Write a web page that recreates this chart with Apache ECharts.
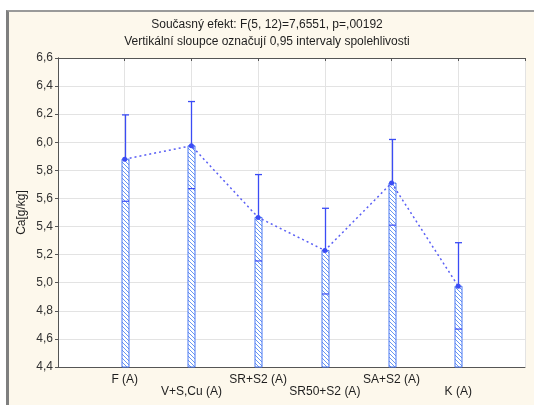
<!DOCTYPE html>
<html>
<head>
<meta charset="utf-8">
<script src="https://cdn.jsdelivr.net/npm/echarts@6/dist/echarts.min.js"></script>
<style>
  html, body { margin: 0; padding: 0; background: #ffffff; }
  #wrap { position: relative; width: 534px; height: 405px; overflow: hidden; }
  #panel {
    position: absolute; left: 6px; top: 10px; width: 540px; height: 400px;
    background: #fdf8ec; border-left: 3px solid #7f7f7f; border-top: 2px solid #9a9a9a;
  }
  #chart { position: absolute; left: 0; top: 0; width: 534px; height: 405px; }
</style>
</head>
<body>
<div id="wrap">
  <div id="panel"></div>
  <div id="chart"></div>
</div>
<script>
// Group labels and their means with 0.95 confidence limits
const categories = ['F (A)', 'V+S,Cu (A)', 'SR+S2 (A)', 'SR50+S2 (A)', 'SA+S2 (A)', 'K (A)'];
const means = [5.88, 5.975, 5.465, 5.23, 5.71, 4.975];
const lowerCI = [5.58, 5.67, 5.155, 4.92, 5.41, 4.67];
const upperCI = [6.195, 6.29, 5.77, 5.53, 6.02, 5.285];

const yMin = 4.4, yMax = 6.6, yStep = 0.2;

// Diagonal hatch tile for the bars
function hatchTile() {
  const s = 4;
  const c = document.createElement('canvas');
  c.width = s; c.height = s;
  const g = c.getContext('2d');
  g.fillStyle = '#ffffff';
  g.fillRect(0, 0, s, s);
  g.strokeStyle = '#6a97f2';
  g.lineWidth = 1;
  g.beginPath();
  g.moveTo(-1, -1); g.lineTo(s + 1, s + 1);
  g.moveTo(-1, s - 1); g.lineTo(1, s + 1);
  g.moveTo(s - 1, -1); g.lineTo(s + 1, 1);
  g.stroke();
  return c;
}
const hatch = { image: hatchTile(), repeat: 'repeat' };

const barRows = categories.map((c, i) => [i + 1, means[i], lowerCI[i], upperCI[i]]);
const meanPoints = categories.map((c, i) => [i + 1, means[i]]);

const chart = echarts.init(document.getElementById('chart'), null, { renderer: 'canvas' });

const commaFmt = v => v.toFixed(1).replace('.', ',');

chart.setOption({
  backgroundColor: 'transparent',
  animation: false,
  title: {
    text: 'Současný efekt: F(5, 12)=7,6551, p=,00192\nVertikální sloupce označují 0,95 intervaly spolehlivosti',
    left: 'center',
    top: 16,
    padding: 0,
    textStyle: { fontFamily: 'Liberation Sans', fontSize: 12, fontWeight: 'normal', color: '#1e1e1e', lineHeight: 17 }
  },
  grid: { left: 58, right: 9, top: 58, bottom: 38, show: true, backgroundColor: '#ffffff', borderWidth: 0 },
  xAxis: [{
    type: 'value', min: 0, max: 7, interval: 1,
    axisLine: { show: true, lineStyle: { color: '#555', width: 1 } },
    axisTick: { show: false },
    splitLine: { show: true, lineStyle: { color: '#e3e3e3', width: 1 } },
    axisLabel: {
      margin: 7,
      fontFamily: 'Liberation Sans', fontSize: 12, color: '#1e1e1e', lineHeight: 12,
      formatter: v => {
        const i = Math.round(v) - 1;
        if (i < 0 || i >= categories.length) return '';
        return i % 2 === 0 ? categories[i] : '\n' + categories[i];
      }
    }
  }, {
    type: 'value', min: 0, max: 7, interval: 1, position: 'top',
    axisLine: { show: true, lineStyle: { color: '#555', width: 1 } },
    axisTick: { show: true, inside: true, length: 3, lineStyle: { color: '#555' } },
    axisLabel: { show: false },
    splitLine: { show: false }
  }],
  yAxis: [{
    type: 'value', min: yMin, max: yMax, interval: yStep,
    name: 'Ca[g/kg]', nameLocation: 'middle', nameGap: 30, nameMoveOverlap: false,
    nameTextStyle: { fontFamily: 'Liberation Sans', fontSize: 12, color: '#1e1e1e' },
    axisLine: { show: true, lineStyle: { color: '#555', width: 1 } },
    axisTick: { show: true, length: 2, lineStyle: { color: '#555' } },
    splitLine: { show: true, lineStyle: { color: '#e3e3e3', width: 1 } },
    axisLabel: { margin: 5, fontFamily: 'Liberation Sans', fontSize: 12, color: '#333', formatter: commaFmt }
  }, {
    type: 'value', min: yMin, max: yMax, interval: yStep, position: 'right',
    axisLine: { show: true, lineStyle: { color: '#555', width: 1 } },
    axisTick: { show: true, inside: true, length: 3, lineStyle: { color: '#555' } },
    axisLabel: { show: false },
    splitLine: { show: false }
  }],
  series: [{
    type: 'custom',
    xAxisIndex: 0, yAxisIndex: 0,
    data: barRows,
    z: 3,
    renderItem: (params, api) => {
      const x = api.value(0);
      const pBase = api.coord([x, yMin]);
      const pMean = api.coord([x, api.value(1)]);
      const pLo = api.coord([x, api.value(2)]);
      const pHi = api.coord([x, api.value(3)]);
      const w = 7;
      const cx = Math.round(pMean[0]) + 0.5;
      const ink = '#3b4cf5';
      return {
        type: 'group',
        children: [
          { type: 'rect', shape: { x: cx - w / 2, y: pMean[1], width: w, height: pBase[1] - pMean[1] },
            style: { fill: hatch, stroke: '#4a78f2', lineWidth: 1 } },
          { type: 'line', shape: { x1: cx - w / 2, y1: pLo[1], x2: cx + w / 2, y2: pLo[1] },
            style: { stroke: ink, lineWidth: 1.2 } },
          { type: 'line', shape: { x1: cx, y1: pMean[1], x2: cx, y2: pHi[1] },
            style: { stroke: ink, lineWidth: 1.3 } },
          { type: 'line', shape: { x1: cx - w / 2, y1: pHi[1], x2: cx + w / 2, y2: pHi[1] },
            style: { stroke: ink, lineWidth: 1.3 } }
        ]
      };
    }
  }, {
    type: 'line',
    xAxisIndex: 0, yAxisIndex: 0,
    data: meanPoints,
    z: 4,
    symbol: 'circle',
    symbolSize: 5,
    itemStyle: { color: '#3b4cf5' },
    lineStyle: { color: '#5a5ff5', width: 1.5, type: [2, 3] }
  }]
});
</script>
</body>
</html>
